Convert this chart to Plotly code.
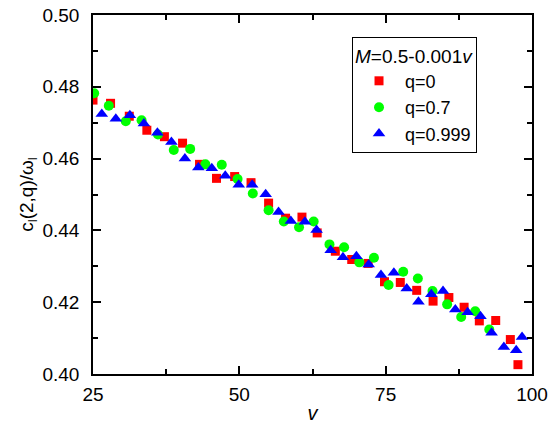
import plotly.graph_objects as go

v_q0 = [25.0, 28.0, 31.2, 34.2, 37.2, 40.3, 43.2, 46.1, 49.2, 52.0, 55.0, 57.9, 60.7, 63.3,
        66.4, 69.2, 72.0, 74.8, 77.5, 80.3, 83.1, 85.8, 88.4, 91.0, 93.8, 96.3, 97.6]
c_q0 = [0.4763, 0.4754, 0.4718, 0.4679, 0.4661, 0.4643, 0.4584, 0.4545, 0.4550, 0.4533,
        0.4476, 0.4434, 0.4437, 0.4393, 0.4342, 0.4319, 0.4308, 0.4257, 0.4255, 0.4233,
        0.4203, 0.4213, 0.4186, 0.4148, 0.4149, 0.4096, 0.4026]

v_q07 = [25.2, 27.7, 30.6, 33.3, 36.1, 38.8, 41.6, 44.2, 47.0, 49.7, 52.3, 55.0, 57.6, 60.2,
         62.7, 65.4, 67.9, 70.5, 73.0, 75.5, 78.0, 80.5, 83.0, 85.5, 87.9, 90.3, 92.7]
c_q07 = [0.4782, 0.4747, 0.4704, 0.4707, 0.4667, 0.4624, 0.4627, 0.4584, 0.4583, 0.4543,
         0.4503, 0.4456, 0.4425, 0.4409, 0.4425, 0.4361, 0.4353, 0.4311, 0.4324, 0.4248,
         0.4285, 0.4266, 0.4231, 0.4194, 0.4159, 0.4175, 0.4124]

v_q0999 = [26.5, 28.9, 31.3, 33.7, 36.0, 38.4, 40.7, 43.0, 45.3, 47.6, 49.9, 52.2, 54.5, 56.7,
           58.8, 61.2, 63.2, 65.6, 67.7, 70.0, 72.1, 74.2, 76.4, 78.6, 80.6, 82.8, 84.8, 86.9,
           89.0, 91.2, 93.1, 95.2, 97.3, 98.3]
c_q0999 = [0.4724, 0.4711, 0.4721, 0.4698, 0.4672, 0.4646, 0.4600, 0.4575, 0.4573, 0.4552,
           0.4527, 0.4527, 0.4501, 0.4451, 0.4426, 0.4424, 0.4401, 0.4345, 0.4325, 0.4328,
           0.4305, 0.4276, 0.4282, 0.4238, 0.4201, 0.4222, 0.4231, 0.4180, 0.4172, 0.4161,
           0.4115, 0.4075, 0.4066, 0.4103]

x_ticks = [25, 50, 75, 100]
y_ticks = [0.40, 0.42, 0.44, 0.46, 0.48, 0.50]

FONT = "Liberation Sans, Arial, sans-serif"

fig = go.Figure()
fig.add_trace(go.Scatter(x=v_q0, y=c_q0, mode="markers", name="q=0",
                         marker=dict(symbol="square", size=9, color="#FF0000")))
fig.add_trace(go.Scatter(x=v_q07, y=c_q07, mode="markers", name="q=0.7",
                         marker=dict(symbol="circle", size=10, color="#00FF00")))
fig.add_trace(go.Scatter(x=v_q0999, y=c_q0999, mode="markers", name="q=0.999",
                         marker=dict(symbol="triangle-up", size=11, color="#0000FF")))

axis_common = dict(
    showline=True, linecolor="black", linewidth=1.5, mirror="allticks",
    ticks="inside", ticklen=8, tickwidth=1.5, tickcolor="black",
    showgrid=False, zeroline=False, automargin=False,
    tickfont=dict(family=FONT, size=19, color="black"),
)

fig.update_xaxes(range=[25, 100], tickvals=x_ticks, ticktext=[str(t) for t in x_ticks],
                 minor=dict(tickvals=[37.5, 62.5, 87.5], ticks="inside", ticklen=5,
                            tickwidth=1.5, tickcolor="black"),
                 title=dict(text="<i>v</i>", font=dict(family=FONT, size=20, color="black"),
                            standoff=2),
                 ticklabelstandoff=2,
                 **axis_common)
fig.update_yaxes(range=[0.40, 0.50], tickvals=y_ticks, ticktext=[f"{t:.2f}" for t in y_ticks],
                 minor=dict(tickvals=[0.41, 0.43, 0.45, 0.47, 0.49], ticks="inside", ticklen=5,
                            tickwidth=1.5, tickcolor="black"),
                 title=dict(text="c<sub>l</sub>(2,q)/ω<sub>l</sub>",
                            font=dict(family=FONT, size=19, color="black"), standoff=4),
                 ticklabelstandoff=8,
                 **axis_common)

fig.update_layout(
    width=550, height=440,
    margin=dict(l=93, r=18, t=15, b=66),
    paper_bgcolor="white", plot_bgcolor="white",
    font=dict(family=FONT, size=19, color="black"),
    showlegend=True,
    legend=dict(
        title=dict(text="<i>M</i>=0.5-0.001<i>v</i>", font=dict(family=FONT, size=19)),
        x=0.59, y=0.939, xanchor="left", yanchor="top",
        bordercolor="black", borderwidth=1, bgcolor="white",
        font=dict(family=FONT, size=18), tracegroupgap=0, itemwidth=42,
    ),
)

fig.write_html("out.html", config={"displayModeBar": False},
               post_script="document.body.style.margin='0';")
